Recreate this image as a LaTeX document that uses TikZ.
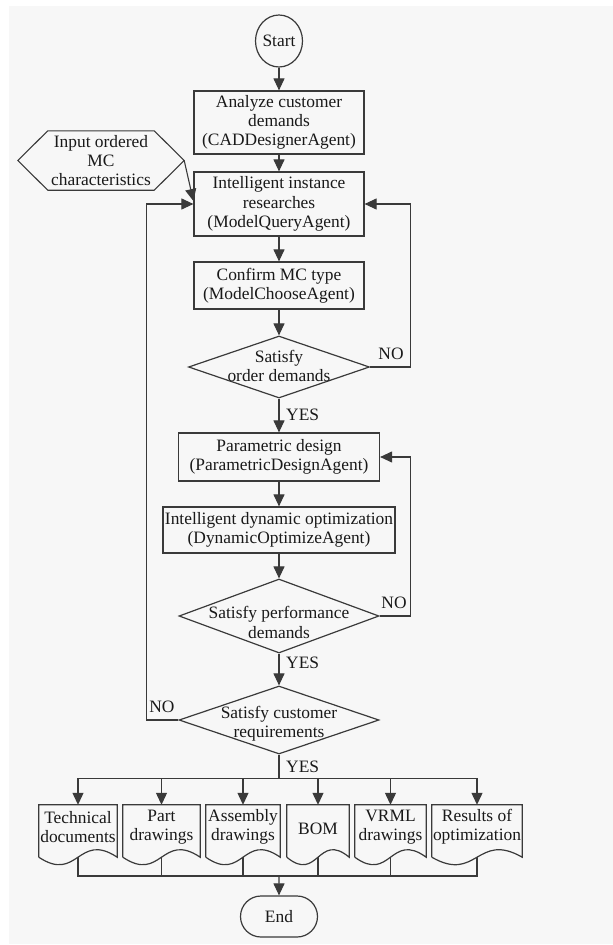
\documentclass[tikz,border=0pt]{standalone}
\usepackage{fontspec}
\setmainfont{Liberation Serif}
\usetikzlibrary{arrows.meta,shapes.geometric,shapes.misc,calc}
\definecolor{paper}{HTML}{F7F7F7}
\definecolor{ink}{HTML}{3A3A3A}

\begin{document}
\begin{tikzpicture}[x=1pt,y=-1pt,
  font=\fontsize{17.4}{19.3}\selectfont,
  every node/.style={text=black!90},
  line/.style={draw=ink,line width=1.1pt},
  arr/.style={line,-{Triangle[length=12pt,width=11pt]}},
  procbox/.style={rectangle,draw=ink,line width=1.2pt,inner sep=0pt,align=center},
  decision/.style={diamond,draw=ink,line width=1.2pt,inner sep=0pt},
  txt/.style={inner sep=0pt,align=center},
  docbox/.style={rectangle,inner sep=0pt,minimum height=52pt},
  doctext/.style={txt,yshift=4pt},
  tag/.style={inner sep=0pt}
]
\useasboundingbox (0,0) rectangle (613,945);
\fill[paper] (9,6) rectangle (613,944);

% main column
\node[ellipse,draw=ink,line width=1.2pt,minimum width=47pt,minimum height=52pt,inner sep=0pt] (start) at (279,41) {Start};
\node[procbox,minimum width=170pt,minimum height=63pt] (b1) at (279,122.5) {Analyze customer\\demands\\(CADDesignerAgent)};
\node[procbox,minimum width=170pt,minimum height=64pt] (b2) at (279,204) {Intelligent instance\\researches\\(ModelQueryAgent)};
\node[procbox,minimum width=170pt,minimum height=47pt] (b3) at (279,285.5) {Confirm MC type\\(ModelChooseAgent)};
\node[decision,minimum width=181pt,minimum height=62pt] (d1) at (279,367) {};
\node[txt] (t1) at (279,366) {Satisfy\\order demands};
\node[procbox,minimum width=201pt,minimum height=48pt] (b4) at (279,457) {Parametric design\\(ParametricDesignAgent)};
\node[procbox,minimum width=232pt,minimum height=46pt] (b5) at (279,530) {Intelligent dynamic optimization\\(DynamicOptimizeAgent)};
\node[decision,minimum width=200pt,minimum height=74pt] (d2) at (279,616) {};
\node[txt] (t2) at (279,622.5) {Satisfy performance\\demands};
\node[decision,minimum width=200pt,minimum height=68pt] (d3) at (279,720) {};
\node[txt] (t3) at (279,723.5) {Satisfy customer\\requirements};

% input hexagon
\node[txt,minimum width=106pt,minimum height=59pt] (inp) at (101,160.5) {Input ordered\\MC\\characteristics};
\draw[line] (inp.north west) -- (inp.north east) -- ($(inp.east)+(30,0)$) coordinate (inptip)
  -- (inp.south east) -- (inp.south west) -- ($(inp.west)+(-30,0)$) -- cycle;

% output documents
\node[docbox,minimum width=78pt] (doc1) at (78,831) {};
\node[docbox,minimum width=77pt] (doc2) at (161.5,831) {};
\node[docbox,minimum width=74pt] (doc3) at (243,831) {};
\node[docbox,minimum width=62pt] (doc4) at (318,831) {};
\node[docbox,minimum width=71pt] (doc5) at (390.5,831) {};
\node[docbox,minimum width=90pt] (doc6) at (477,831) {};
\node[doctext] (dt1) at (doc1) {Technical\\documents};
\node[doctext] (dt2) at (doc2) {Part\\drawings};
\node[doctext] (dt3) at (doc3) {Assembly\\drawings};
\node[doctext,yshift=-2pt] (dt4) at (doc4) {BOM};
\node[doctext] (dt5) at (doc5) {VRML\\drawings};
\node[doctext] (dt6) at (doc6) {Results of\\optimization};
\foreach \d in {doc1,doc2,doc3,doc4,doc5,doc6}
  \draw[line,line width=1.2pt] (\d.south west) -- (\d.north west) -- (\d.north east) -- (\d.south east)
    .. controls ($(\d.south)+(0,-26)$) and ($(\d.south)+(0,26)$) .. (\d.south west);

\node[rounded rectangle,draw=ink,line width=1.2pt,minimum width=77pt,minimum height=41pt,inner sep=0pt] (end) at (279,916.5) {End};

% connectors
\draw[arr] (start) -- (b1);
\draw[arr] (b1) -- (b2);
\draw[arr] (b2) -- (b3);
\draw[arr] (b3) -- (d1);
\draw[arr] (d1) -- (b4);
\draw[arr] (b4) -- (b5);
\draw[arr] (b5) -- (d2);
\draw[arr] (d2) -- (d3);
\draw[arr] (inptip) -- ($(b2.west)+(0,-3)$);
\draw[arr] (d1.east) -- ++(40.5,0) |- (b2.east);
\draw[arr] (d2.east) -- ++(31,0) |- (b4.east);
\draw[arr] (d3.west) -- ++(-32,0) |- (b2.west);

\draw[line] (d3.south) -- ++(0,24) coordinate (split);
\foreach \d in {doc1,doc2,doc3,doc4,doc5,doc6}
  \draw[arr] (split) -| (\d.north);
\coordinate (join) at (279,876);
\foreach \d in {doc1,doc2,doc3,doc4,doc5,doc6}
  \draw[line] (\d.south) |- (join);
\draw[arr] (join) -- (end);

% branch labels
\node[tag] (no1) at (391,354) {NO};
\node[tag] (no2) at (394,603) {NO};
\node[tag] (no3) at (162,707) {NO};
\node[tag,anchor=west] (yes1) at (286,415) {YES};
\node[tag,anchor=west] (yes2) at (286,663) {YES};
\node[tag,anchor=west] (yes3) at (286,767) {YES};
\end{tikzpicture}
\end{document}
